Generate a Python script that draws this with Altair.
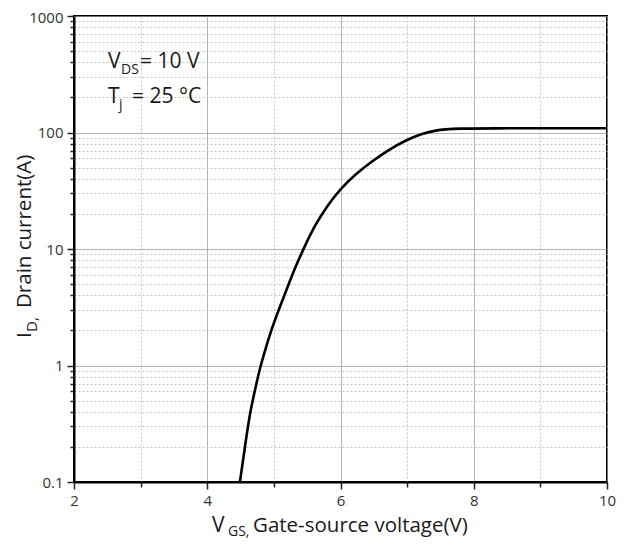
import altair as alt
import pandas as pd

# ---- data ----
vgs = [4.49, 4.57, 4.64, 4.72, 4.79, 4.87, 4.97, 5.09, 5.21, 5.33, 5.45, 5.62, 5.81, 5.99,
       6.22, 6.47, 6.71, 6.97, 7.22, 7.42, 7.57, 7.79, 8.09, 10.00]
id_a = [0.100, 0.208, 0.391, 0.628, 0.952, 1.36, 2.10, 3.18, 4.81, 7.15, 10.2, 16.2, 23.9, 32.4,
        43.6, 56.4, 70.1, 85.4, 97.5, 104.0, 106.5, 108.0, 108.7, 108.7]

x_ticks = [2, 3, 4, 5, 6, 7, 8, 9, 10]
y_ticks = [0.1, 0.2, 0.3, 0.4, 0.5, 0.6, 0.7, 0.8, 0.9,
           1, 2, 3, 4, 5, 6, 7, 8, 9,
           10, 20, 30, 40, 50, 60, 70, 80, 90,
           100, 200, 300, 400, 500, 600, 700, 800, 900, 1000]

FONT = "Open Sans"
W, H = 533, 466

df = pd.DataFrame({"vgs": vgs, "id": id_a})

ymajor = "abs(log(datum.value)/LN10 - round(log(datum.value)/LN10)) < 0.01"
xmajor = "datum.value % 2 == 0"

x_axis = alt.Axis(
    values=x_ticks, title=None, labelExpr=f"({xmajor}) ? datum.label : ''",
    grid=True,
    gridDash={"condition": {"test": xmajor, "value": [1, 0]}, "value": [2, 2]},
    gridColor={"condition": {"test": xmajor, "value": "#9a9a9a"}, "value": "#c4c4c4"},
    gridWidth=1,
    tickSize={"condition": {"test": xmajor, "value": 7}, "value": 5},
    tickColor="#222", tickWidth=1.5,
    labelFont=FONT, labelFontSize=15, labelColor="#333", labelPadding=4,
    domainColor="black", domainWidth=2, labelFlush=False,
)
y_axis = alt.Axis(
    values=y_ticks, title=None, format="~g",
    labelExpr=f"({ymajor}) ? datum.label : ''",
    grid=True,
    gridDash={"condition": {"test": ymajor, "value": [1, 0]}, "value": [2, 2]},
    gridColor={"condition": {"test": ymajor, "value": "#9a9a9a"}, "value": "#c4c4c4"},
    gridWidth=1,
    tickSize={"condition": {"test": ymajor, "value": 7}, "value": 4},
    tickColor="#222", tickWidth=1.5,
    labelOffset={"condition": {"test": "datum.value > 999", "value": 1.5}, "value": 0},
    labelFont=FONT, labelFontSize=15, labelColor="#333", labelPadding=4,
    domainColor="black", domainWidth=2, labelFlush=False,
)

base = alt.Chart(df)

curve = base.mark_line(color="black", strokeWidth=2.6, interpolate="basis", clip=True).encode(
    x=alt.X("vgs:Q", scale=alt.Scale(domain=[2, 10], nice=False, zero=False), axis=x_axis),
    y=alt.Y("id:Q", scale=alt.Scale(type="log", domain=[0.1, 1000], nice=False), axis=y_axis),
)

# ---- text pieces (titles/annotations with subscripts); page coords minus plot origin (74,16)
OX, OY = 74, 16
txt = pd.DataFrame({"k": [0]})


def piece(s, px, py, size, angle=0):
    return alt.Chart(txt).mark_text(
        text=s, font=FONT, fontSize=size, align="left", baseline="alphabetic",
        color="#1a1a1a", angle=angle,
    ).encode(x=alt.value(px - OX), y=alt.value(py - OY))


texts = [
    # x title
    piece("V", 212, 532, 21),
    piece("GS,", 228, 536, 14),
    piece("Gate-source voltage(V)", 253, 532, 20.5),
    # y title (rotated)
    piece("I", 31, 338, 20.5, 270),
    piece("D,", 37, 332, 15, 270),
    piece("Drain current(A)", 31, 308, 20.5, 270),
    # annotations
    piece("V", 108, 68, 21),
    piece("DS", 121, 74, 14),
    piece("= 10 V", 140, 68, 21),
    piece("T", 108, 103, 21),
    piece("j", 119, 109, 14),
    piece("= 25 \u00b0C", 132, 103, 21),
]

chart = alt.layer(curve, *texts).properties(
    width=W, height=H,
    autosize=alt.AutoSizeParams(type="none"),
    padding={"left": 66, "top": 8, "right": 9, "bottom": 57},
    background="white",
).configure_view(stroke="black", strokeWidth=2)

chart.save("out.html", embed_options={"renderer": "svg", "actions": False})
